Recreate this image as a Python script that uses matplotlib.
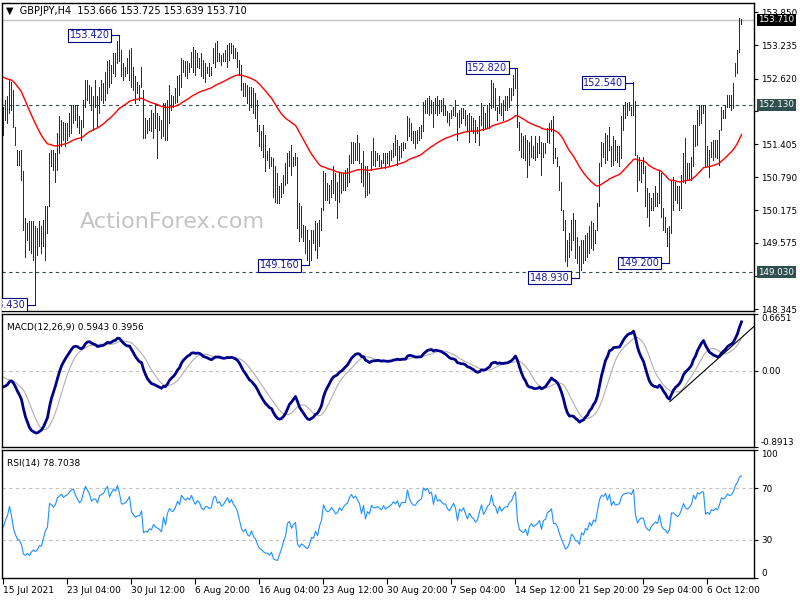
import numpy as np
import pandas as pd
import matplotlib
matplotlib.use('Agg')
import matplotlib.pyplot as plt
from matplotlib.transforms import blended_transform_factory

# GBPJPY H4 bars (one entry per bar)
highs = [
    152.10, 152.22, 152.29, 152.60, 152.56, 152.41, 151.73, 151.30, 151.27, 151.30,
    150.90, 150.03, 149.94, 149.97, 149.97, 149.97, 149.88, 149.85, 149.97, 149.88,
    150.00, 150.25, 150.25, 151.24, 151.30, 151.30, 151.24, 151.61, 151.92, 151.85,
    151.82, 151.79, 151.79, 151.98, 152.13, 152.13, 152.13, 152.13, 151.92, 151.85,
    152.22, 152.60, 152.60, 152.50, 152.47, 152.29, 152.60, 152.29, 152.47, 152.60,
    152.53, 152.75, 152.94, 152.97, 152.87, 153.09, 153.09, 153.31, 153.43, 153.15,
    152.90, 152.84, 153.00, 153.15, 153.18, 152.84, 152.66, 152.56, 152.50, 152.84,
    152.41, 151.89, 151.85, 151.89, 152.04, 151.98, 152.16, 151.98, 151.92, 151.85,
    152.16, 152.16, 152.22, 152.50, 152.32, 152.29, 152.44, 152.66, 152.69, 153.00,
    152.97, 152.94, 152.94, 152.90, 153.12, 153.21, 153.15, 153.09, 153.00, 153.09,
    152.97, 152.90, 152.84, 152.90, 152.84, 153.18, 153.28, 153.31, 153.09, 153.06,
    153.09, 153.15, 153.24, 153.28, 153.28, 153.24, 153.18, 153.12, 152.97, 152.87,
    152.53, 152.53, 152.50, 152.47, 152.47, 152.44, 152.35, 152.22, 151.76, 151.64,
    151.76, 151.58, 151.27, 151.33, 151.17, 151.14, 150.99, 150.87, 150.62, 150.68,
    150.84, 151.05, 151.24, 151.27, 151.39, 151.17, 151.24, 151.17, 150.31, 150.25,
    149.91, 149.88, 149.81, 149.63, 149.81, 149.81, 149.97, 149.94, 150.00, 150.22,
    150.90, 150.87, 150.68, 150.65, 150.74, 150.99, 150.87, 150.71, 150.87, 150.87,
    150.87, 150.93, 150.96, 151.21, 151.45, 151.45, 151.42, 151.58, 151.42, 151.05,
    151.27, 150.99, 150.99, 150.87, 151.27, 151.51, 151.27, 151.24, 151.21, 151.11,
    151.24, 151.24, 151.24, 151.27, 151.30, 151.42, 151.58, 151.48, 151.36, 151.42,
    151.45, 151.42, 151.92, 151.89, 151.79, 151.64, 151.64, 151.67, 151.73, 151.75,
    152.19, 152.22, 152.26, 152.29, 152.22, 152.19, 152.26, 152.29, 152.22, 152.22,
    152.26, 152.13, 152.01, 151.98, 152.04, 152.10, 152.22, 151.98, 152.04, 152.07,
    152.07, 152.04, 151.95, 151.98, 151.92, 151.89, 151.85, 151.73, 151.92, 152.16,
    152.10, 151.98, 152.13, 152.16, 152.60, 152.53, 152.44, 152.10, 152.29, 152.16,
    152.22, 152.29, 152.29, 152.44, 152.44, 152.69, 152.81, 152.82, 151.82, 151.61,
    151.55, 151.58, 151.48, 151.45, 151.55, 151.36, 151.55, 151.42, 151.55, 151.45,
    151.42, 151.42, 151.70, 151.79, 151.85, 151.92, 151.33, 151.17, 150.99, 150.71,
    150.19, 150.00, 149.63, 149.75, 150.00, 150.12, 150.00, 149.69, 149.51, 149.63,
    149.63, 149.72, 149.75, 149.88, 149.97, 149.94, 149.81, 150.31, 151.05, 151.45,
    151.42, 151.61, 151.58, 151.73, 151.36, 151.55, 151.48, 151.36, 151.36, 151.92,
    152.13, 152.19, 152.16, 152.19, 152.10, 152.55, 152.20, 151.21, 151.17, 151.08,
    151.17, 150.99, 150.59, 150.50, 150.40, 150.50, 150.62, 150.50, 150.90, 150.87,
    150.22, 150.06, 149.85, 149.88, 150.74, 150.80, 150.71, 150.62, 150.62, 150.84,
    151.24, 151.51, 151.05, 151.05, 151.17, 151.76, 151.76, 152.04, 152.13, 152.13,
    152.13, 152.13, 151.36, 151.30, 151.45, 151.48, 151.48, 151.48, 151.67, 152.10,
    152.04, 152.13, 152.32, 152.32, 152.32, 152.53, 152.90, 153.15, 153.74, 153.725,
]
lows = [
    151.58, 151.85, 151.79, 151.98, 152.04, 151.73, 151.39, 151.02, 151.02, 150.74,
    149.81, 149.32, 149.63, 149.44, 149.38, 149.26, 148.43, 149.35, 149.51, 149.38,
    149.51, 149.26, 149.75, 150.25, 150.99, 150.93, 150.71, 150.93, 151.24, 151.36,
    151.48, 151.36, 151.48, 151.55, 151.61, 151.79, 151.85, 151.73, 151.61, 151.48,
    151.73, 152.10, 152.22, 152.16, 152.04, 151.67, 152.10, 151.73, 151.98, 152.22,
    152.16, 152.22, 152.35, 152.47, 152.53, 152.72, 152.66, 152.90, 152.94, 152.66,
    152.60, 152.66, 152.72, 152.60, 152.47, 152.41, 152.16, 152.35, 152.22, 152.47,
    151.51, 151.51, 151.61, 151.67, 151.64, 151.51, 151.70, 151.14, 151.67, 151.51,
    151.55, 151.48, 151.48, 151.79, 152.04, 152.10, 152.16, 152.19, 152.32, 152.47,
    152.75, 152.66, 152.63, 152.75, 152.84, 152.75, 152.69, 152.84, 152.81, 152.66,
    152.63, 152.56, 152.72, 152.66, 152.69, 152.90, 152.84, 152.94, 152.94, 152.87,
    152.94, 152.94, 152.84, 152.97, 153.09, 153.00, 153.00, 152.84, 152.69, 152.41,
    152.29, 152.29, 152.16, 152.04, 152.10, 151.98, 151.89, 151.64, 151.36, 151.30,
    151.17, 150.90, 151.11, 150.96, 150.99, 150.43, 150.34, 150.31, 150.31, 150.43,
    150.50, 150.65, 150.68, 150.99, 150.84, 150.99, 151.02, 149.85, 149.60, 149.69,
    149.60, 149.38, 149.26, 149.16, 149.26, 149.57, 149.44, 149.29, 149.51, 149.81,
    150.19, 150.37, 150.37, 150.31, 150.43, 150.50, 150.37, 150.03, 150.34, 150.50,
    150.56, 150.56, 150.62, 150.71, 151.05, 151.05, 151.11, 151.11, 151.05, 150.71,
    150.62, 150.43, 150.46, 150.50, 150.93, 151.02, 150.99, 151.11, 150.99, 150.96,
    151.05, 150.96, 151.05, 151.02, 151.11, 151.17, 151.21, 151.02, 151.11, 151.17,
    151.30, 151.33, 151.48, 151.55, 151.48, 151.42, 151.33, 151.42, 151.48, 151.51,
    151.64, 151.98, 151.98, 151.95, 151.98, 151.73, 151.98, 151.95, 151.98, 152.01,
    151.95, 151.95, 151.82, 151.76, 151.89, 151.95, 151.92, 151.48, 151.73, 151.79,
    151.89, 151.76, 151.64, 151.45, 151.64, 151.61, 151.45, 151.61, 151.39, 151.76,
    151.67, 151.70, 151.70, 151.70, 152.07, 152.10, 152.04, 151.85, 151.98, 151.95,
    151.85, 152.04, 152.04, 152.10, 152.22, 152.32, 152.44, 151.73, 151.30, 151.17,
    151.14, 151.11, 150.80, 151.02, 151.17, 151.14, 151.11, 151.17, 151.24, 150.84,
    151.17, 151.24, 151.45, 151.42, 151.64, 151.05, 151.14, 150.99, 150.56, 150.19,
    149.81, 149.23, 149.14, 149.32, 149.44, 149.63, 149.29, 149.20, 148.93, 149.07,
    149.20, 149.26, 149.32, 149.38, 149.48, 149.44, 149.57, 149.81, 150.25, 150.99,
    151.17, 151.05, 151.11, 151.30, 150.99, 151.02, 151.11, 151.08, 150.99, 151.14,
    151.67, 151.89, 151.95, 152.04, 151.95, 151.95, 151.20, 150.53, 150.74, 150.71,
    150.87, 150.25, 150.06, 149.88, 150.19, 150.19, 150.25, 150.25, 150.31, 150.06,
    149.81, 149.78, 149.51, 149.20, 149.75, 150.19, 150.37, 150.31, 150.19, 150.22,
    150.71, 150.68, 150.74, 150.74, 150.74, 150.99, 151.36, 151.39, 151.76, 151.79,
    151.98, 150.99, 150.99, 150.80, 151.17, 151.11, 151.17, 151.14, 151.02, 151.67,
    151.89, 151.89, 152.10, 152.10, 152.04, 152.07, 152.66, 152.72, 153.12, 153.639,
]
closes = [
    151.95, 152.10, 152.20, 152.45, 152.20, 151.75, 151.45, 151.20, 151.15, 150.85,
    149.95, 149.80, 149.85, 149.60, 149.70, 149.75, 149.60, 149.65, 149.75, 149.70,
    149.90, 150.10, 150.20, 151.15, 151.10, 151.00, 151.15, 151.50, 151.60, 151.70,
    151.60, 151.70, 151.75, 151.90, 152.00, 152.05, 151.90, 151.80, 151.70, 151.80,
    152.15, 152.50, 152.40, 152.30, 152.10, 152.20, 152.20, 152.10, 152.40, 152.45,
    152.50, 152.70, 152.85, 152.60, 152.80, 153.00, 152.95, 153.25, 153.05, 152.75,
    152.75, 152.80, 152.90, 153.05, 152.60, 152.50, 152.40, 152.45, 152.45, 152.60,
    151.70, 151.75, 151.70, 151.80, 151.75, 151.90, 151.80, 151.75, 151.70, 151.60,
    152.00, 151.70, 152.10, 152.30, 152.20, 152.20, 152.35, 152.60, 152.50, 152.95,
    152.85, 152.80, 152.90, 152.85, 153.05, 152.90, 152.80, 152.95, 152.90, 152.75,
    152.70, 152.80, 152.80, 152.75, 152.80, 153.10, 153.15, 153.00, 153.05, 152.95,
    153.00, 153.10, 153.20, 153.10, 153.20, 153.10, 153.05, 152.95, 152.75, 152.50,
    152.40, 152.45, 152.25, 152.20, 152.30, 152.10, 152.00, 151.75, 151.50, 151.45,
    151.30, 151.20, 151.20, 151.05, 151.10, 150.55, 150.45, 150.40, 150.50, 150.60,
    150.75, 150.85, 151.15, 151.20, 150.95, 151.05, 151.10, 150.00, 149.70, 149.80,
    149.70, 149.50, 149.40, 149.50, 149.70, 149.65, 149.85, 149.60, 149.90, 150.10,
    150.80, 150.60, 150.50, 150.55, 150.70, 150.60, 150.45, 150.50, 150.70, 150.60,
    150.75, 150.85, 150.90, 151.15, 151.30, 151.20, 151.30, 151.20, 151.10, 150.80,
    151.10, 150.60, 150.90, 150.80, 151.20, 151.10, 151.10, 151.15, 151.10, 151.05,
    151.20, 151.10, 151.15, 151.20, 151.25, 151.35, 151.30, 151.40, 151.25, 151.40,
    151.40, 151.40, 151.85, 151.65, 151.55, 151.50, 151.50, 151.60, 151.65, 151.70,
    152.10, 152.05, 152.15, 152.05, 152.10, 151.85, 152.20, 152.05, 152.10, 152.05,
    152.00, 152.00, 151.90, 151.85, 151.95, 152.05, 151.95, 151.65, 151.95, 151.90,
    152.00, 151.85, 151.70, 151.85, 151.75, 151.70, 151.60, 151.65, 151.85, 152.05,
    151.80, 151.90, 152.05, 152.10, 152.45, 152.20, 152.15, 151.95, 152.20, 152.05,
    152.15, 152.20, 152.20, 152.35, 152.40, 152.60, 152.75, 151.85, 151.40, 151.30,
    151.25, 151.35, 151.00, 151.30, 151.40, 151.25, 151.30, 151.35, 151.45, 151.05,
    151.35, 151.40, 151.65, 151.70, 151.80, 151.20, 151.20, 151.05, 150.65, 150.30,
    149.90, 149.40, 149.45, 149.60, 149.90, 149.75, 149.40, 149.35, 149.10, 149.50,
    149.35, 149.60, 149.50, 149.80, 149.60, 149.85, 149.75, 150.25, 150.95, 151.30,
    151.25, 151.50, 151.20, 151.65, 151.10, 151.40, 151.20, 151.25, 151.30, 151.80,
    152.00, 152.05, 152.10, 152.10, 152.05, 152.40, 151.25, 150.70, 150.90, 151.00,
    150.95, 150.40, 150.20, 150.10, 150.30, 150.40, 150.50, 150.40, 150.80, 150.15,
    149.90, 149.85, 149.60, 149.75, 150.60, 150.60, 150.50, 150.40, 150.50, 150.75,
    151.10, 150.90, 150.85, 150.95, 151.10, 151.65, 151.50, 151.95, 151.90, 152.05,
    152.05, 151.10, 151.20, 151.10, 151.35, 151.30, 151.40, 151.35, 151.60, 152.00,
    151.95, 152.05, 152.25, 152.20, 152.25, 152.45, 152.85, 153.10, 153.60, 153.71,
]

date_labels = ['15 Jul 2021', '23 Jul 04:00', '30 Jul 12:00', '6 Aug 20:00',
               '16 Aug 04:00', '23 Aug 12:00', '30 Aug 20:00', '7 Sep 04:00',
               '14 Sep 12:00', '21 Sep 20:00', '29 Sep 04:00', '6 Oct 12:00']
label_step = 32  # bars between date labels

price_ticks = [153.850, 153.235, 152.620, 152.020, 151.405, 150.790,
               150.175, 149.575, 148.960, 148.345]
hidden_ticks = [152.020, 148.960]  # covered by the level tags on the chart
level_lines = [152.13, 149.03]
last_price = 153.71

# swing high / low tags
swing_bars = [58, 257, 315, 16, 153, 288, 333]
swing_prices = [153.42, 152.82, 152.54, 148.43, 149.16, 148.93, 149.20]

# indicator starting states, taken from the left edge of the chart
ma_period = 55
ma_seed = 152.67
ema12_seed = 152.20
ema26_seed = 152.38
signal_seed = -0.06
rsi_gain_seed = 0.05
rsi_loss_seed = 0.075

macd_ticks = [0.6651, 0.0, -0.8913]
trend_x = [333.2, 375.5]
trend_y = [-0.36, 0.525]


def ema(values, period, seed):
    k = 2.0 / (period + 1)
    out = []
    prev = seed
    for v in values:
        prev = prev + k * (v - prev)
        out.append(prev)
    return np.array(out)


closes_arr = np.array(closes)
idx = np.arange(len(closes))

ma = ema(closes_arr, ma_period, ma_seed)
macd = ema(closes_arr, 12, ema12_seed) - ema(closes_arr, 26, ema26_seed)
signal = pd.Series([signal_seed] * 8 + list(macd)).rolling(9).mean().values[8:]

# Wilder RSI(14)
diffs = np.diff(closes_arr, prepend=closes_arr[0])
ag, al = rsi_gain_seed, rsi_loss_seed
rsi = []
for d in diffs:
    ag = (ag * 13 + max(d, 0)) / 14
    al = (al * 13 + max(-d, 0)) / 14
    rsi.append(100 - 100 / (1 + ag / al))
rsi = np.array(rsi)

W, H = 800, 600


def box(x0, y0, x1, y1):
    return [x0 / W, 1 - y1 / H, (x1 - x0) / W, (y1 - y0) / H]


fig = plt.figure(figsize=(8, 6), dpi=100, facecolor='white')
ax = fig.add_axes(box(2, 3, 754, 311))
ax_macd = fig.add_axes(box(2, 314, 754, 447))
ax_rsi = fig.add_axes(box(2, 450, 754, 578))

# 2 px per bar, bar centres on pixel centres
xlim = (-0.75, 375.25)
for a in (ax, ax_macd, ax_rsi):
    a.set_xlim(*xlim)
    a.yaxis.tick_right()
    a.tick_params(axis='y', length=3, width=0.8, labelsize=6.3, pad=2, colors='black')
    for s in a.spines.values():
        s.set_linewidth(1)
ax.set_xticks([])
ax_macd.set_xticks([])

# ---- main price panel ----
ax.set_ylim(148.31, 154.02)
ax.axhline(last_price, color='#C0C0C0', lw=1, zorder=1)
for p in level_lines:
    ax.axhline(p, color='#2F4F4F', lw=0.8, ls=(0, (3, 3)), zorder=1)
ax.vlines(idx, lows, highs, color='#0B3550', lw=0.72, antialiased=False, snap=True, zorder=2)
ax.plot(idx, ma, color='red', lw=1, zorder=3)
ax.set_yticks(price_ticks)
ax.set_yticklabels(['' if t in hidden_ticks else f'{t:.3f}' for t in price_ticks])

ax.text(0.226, 0.29, 'ActionForex.com', transform=ax.transAxes, fontsize=16,
        color='#C4C4C4', ha='center', va='center', zorder=0)

for i, p in zip(swing_bars, swing_prices):
    ax.plot([i - 5, i], [p, p], color='#000080', lw=0.8, zorder=4)
    ax.text(i - 5, p, f'{p:.3f}', ha='right', va='center', fontsize=7, color='#1818A8',
            bbox=dict(boxstyle='square,pad=0.15', fc='white', ec='#000080', lw=0.8),
            zorder=5, clip_on=True)

trans = blended_transform_factory(ax.transAxes, ax.transData)
for p, bg in [(level_lines[0], '#2F4F4F'), (level_lines[1], '#2F4F4F'), (last_price, 'black')]:
    ax.text(1.006, p, f'{p:.3f}', transform=trans, ha='left', va='center', fontsize=6.3,
            color='white', bbox=dict(boxstyle='square,pad=0.15', fc=bg, ec='none'), zorder=6)

fig.text(6 / W, 1 - 11 / H, '\u25bc  GBPJPY,H4  153.666 153.725 153.639 153.710',
         fontsize=7, va='center', ha='left')

# ---- MACD panel ----
ax_macd.set_ylim(macd_ticks[2], macd_ticks[0])
ax_macd.axhline(0, color='#C0C0C0', lw=0.8, ls=(0, (3, 3)))
ax_macd.plot(idx, signal, color='#B0B0B0', lw=0.8)
ax_macd.plot(idx, macd, color='#00008B', lw=2)
ax_macd.plot(trend_x, trend_y, color='black', lw=0.8)
ax_macd.set_yticks(macd_ticks)
ax_macd.set_yticklabels(['0.6651', '0.00', '-0.8913'])
ylabels = ax_macd.get_yticklabels()
ylabels[0].set_va('top')
ylabels[2].set_va('bottom')
ax_macd.text(0.007, 0.93, 'MACD(12,26,9) 0.5943 0.3956', transform=ax_macd.transAxes,
             fontsize=6.5, va='top', ha='left')

# ---- RSI panel ----
ax_rsi.set_ylim(0, 100)
for lv in (70, 30):
    ax_rsi.axhline(lv, color='#C0C0C0', lw=0.8, ls=(0, (3, 3)))
ax_rsi.plot(idx, rsi, color='#1E90FF', lw=0.8)
ax_rsi.set_yticks([100, 70, 30, 0])
ax_rsi.set_yticklabels(['100', '70', '30', '0'])
rl = ax_rsi.get_yticklabels()
rl[0].set_va('top')
rl[3].set_va('bottom')
ax_rsi.text(0.007, 0.93, 'RSI(14) 78.7038', transform=ax_rsi.transAxes,
            fontsize=6.5, va='top', ha='left')

ax_rsi.set_xticks(np.arange(len(date_labels)) * label_step)
ax_rsi.set_xticklabels(date_labels)
for lbl in ax_rsi.get_xticklabels():
    lbl.set_ha('left')
ax_rsi.tick_params(axis='x', length=4, width=0.8, labelsize=6.5, pad=2)

fig.savefig('out.png', dpi=100, facecolor='white')
